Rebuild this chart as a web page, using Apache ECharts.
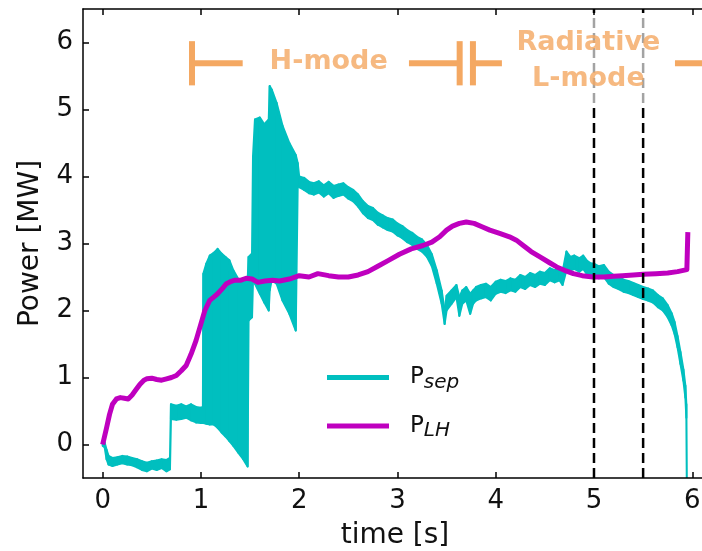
<!DOCTYPE html>
<html><head><meta charset="utf-8">
<script src="https://cdn.jsdelivr.net/npm/echarts@6/dist/echarts.min.js"></script>
<style>html,body{margin:0;padding:0;background:#fff}#c{width:702px;height:551px}</style>
</head><body><div id="c"></div>
<script>
// ---- data ----
const xTicks = [0, 1, 2, 3, 4, 5, 6];
const yTicks = [0, 1, 2, 3, 4, 5, 6];

const plhT = [0, 0.02, 0.04, 0.07, 0.1, 0.14, 0.18, 0.22, 0.26, 0.3, 0.34, 0.38, 0.42, 0.45, 0.5, 0.55, 0.6, 0.65, 0.7, 0.75,
  0.8, 0.85, 0.9, 0.95, 1.0, 1.04, 1.09, 1.13, 1.17, 1.22, 1.26, 1.3, 1.34, 1.4, 1.46, 1.52, 1.58, 1.65, 1.73, 1.8,
  1.9, 2.0, 2.1, 2.19, 2.3, 2.4, 2.5, 2.6, 2.7, 2.8, 2.9, 3.02, 3.14, 3.26, 3.35, 3.43, 3.5, 3.56, 3.63, 3.7,
  3.78, 3.86, 3.94, 4.04, 4.14, 4.21, 4.28, 4.36, 4.45, 4.54, 4.62, 4.7, 4.79, 4.88, 4.99, 5.1, 5.2, 5.29, 5.4, 5.5,
  5.63, 5.75, 5.85, 5.945, 5.955];
const plhV = [0, 0.02, 0.25, 0.45, 0.6, 0.68, 0.7, 0.69, 0.68, 0.74, 0.82, 0.9, 0.96, 0.98, 0.99, 0.97, 0.96, 0.98, 1.0, 1.03,
  1.1, 1.18, 1.35, 1.55, 1.8, 2.0, 2.15, 2.2, 2.25, 2.33, 2.4, 2.43, 2.45, 2.45, 2.48, 2.47, 2.42, 2.44, 2.45, 2.44,
  2.47, 2.52, 2.5, 2.55, 2.52, 2.5, 2.5, 2.53, 2.58, 2.66, 2.74, 2.84, 2.92, 2.97, 3.02, 3.1, 3.2, 3.26, 3.3, 3.32,
  3.3, 3.25, 3.2, 3.15, 3.1, 3.05, 2.97, 2.88, 2.8, 2.72, 2.65, 2.6, 2.55, 2.52, 2.5, 2.5, 2.51, 2.52, 2.53, 2.54,
  2.55, 2.56, 2.58, 2.61, 3.17];

// P_sep: noisy signal given as lower / upper envelope at each time
const psepT = [0, 0.02, 0.04, 0.06, 0.1, 0.15, 0.2, 0.25, 0.3, 0.35, 0.4, 0.45, 0.5, 0.55, 0.6, 0.65, 0.685,
  0.695, 0.75, 0.8, 0.85, 0.9, 0.95, 1.0, 1.02,
  1.025, 1.055, 1.09, 1.13, 1.17, 1.21, 1.25, 1.29, 1.33, 1.38, 1.43, 1.475, 1.485, 1.52,
  1.53, 1.55, 1.6, 1.645, 1.69, 1.70, 1.72, 1.77, 1.83, 1.9, 1.965, 1.985,
  2.0, 2.05, 2.1, 2.15, 2.2, 2.25, 2.3, 2.35, 2.4, 2.45, 2.5, 2.55, 2.6, 2.65, 2.7, 2.75, 2.8, 2.85, 2.9, 2.95,
  3.0, 3.05, 3.1, 3.15, 3.2, 3.25, 3.3, 3.35, 3.4, 3.45, 3.48, 3.5, 3.55, 3.6, 3.63, 3.66, 3.7, 3.74, 3.77, 3.8,
  3.85, 3.9, 3.95, 4.0, 4.05, 4.1, 4.15, 4.2, 4.25, 4.3, 4.35, 4.4, 4.45, 4.5, 4.55, 4.6, 4.65, 4.68, 4.72, 4.76,
  4.8, 4.85, 4.89, 4.93, 4.97, 5.0, 5.05, 5.1, 5.15, 5.2, 5.25, 5.3, 5.35, 5.4, 5.45, 5.5, 5.55, 5.6, 5.65, 5.7,
  5.75, 5.79, 5.82, 5.85, 5.88, 5.91, 5.93, 5.94, 5.945];
const psepLo = [-0.02, -0.04, -0.22, -0.3, -0.32, -0.3, -0.28, -0.3, -0.31, -0.34, -0.38, -0.4, -0.36, -0.38, -0.35, -0.4, -0.37,
  0.38, 0.37, 0.38, 0.4, 0.36, 0.33, 0.32, 0.32,
  0.32, 0.31, 0.3, 0.3, 0.25, 0.18, 0.12, 0.05, -0.02, -0.12, -0.22, -0.33, 1.85, 1.9,
  2.45, 2.4, 2.25, 2.12, 2.0, 2.3, 2.45, 2.4, 2.15, 1.95, 1.7, 3.88,
  3.84, 3.8, 3.75, 3.73, 3.76, 3.7, 3.75, 3.68, 3.71, 3.73, 3.67, 3.63, 3.55, 3.45, 3.38, 3.35, 3.28, 3.24, 3.2, 3.18,
  3.12, 3.08, 3.02, 2.98, 2.92, 2.88, 2.8, 2.66, 2.4, 2.1, 1.8, 2.0, 2.1, 2.2, 1.92, 2.1, 2.15, 1.95, 2.1, 2.15,
  2.18, 2.2, 2.15, 2.25, 2.28, 2.26, 2.3, 2.28, 2.35, 2.32, 2.38, 2.35, 2.4, 2.38, 2.45, 2.42, 2.45, 2.38, 2.6, 2.6,
  2.62, 2.58, 2.62, 2.54, 2.5, 2.52, 2.48, 2.5, 2.4, 2.35, 2.32, 2.28, 2.26, 2.23, 2.2, 2.17, 2.15, 2.12, 2.05, 2.0,
  1.9, 1.78, 1.65, 1.45, 1.2, 0.95, 0.7, 0.4, -0.7];
const psepHi = [0.05, 0.03, -0.08, -0.17, -0.2, -0.19, -0.17, -0.18, -0.2, -0.22, -0.25, -0.27, -0.25, -0.24, -0.22, -0.23, -0.2,
  0.6, 0.58, 0.6, 0.57, 0.6, 0.56, 0.55, 0.56,
  2.55, 2.7, 2.82, 2.86, 2.92, 2.85, 2.8, 2.75, 2.6, 2.47, 2.42, 2.43, 2.8, 2.85,
  4.3, 4.85, 4.88, 4.78, 4.85, 5.35, 5.3, 5.1, 4.76, 4.5, 4.32, 4.2,
  4.0, 3.98, 3.92, 3.9, 3.93, 3.87, 3.92, 3.86, 3.88, 3.9, 3.84, 3.8, 3.73, 3.63, 3.56, 3.53, 3.46, 3.42, 3.38, 3.36,
  3.3, 3.26, 3.2, 3.16, 3.1, 3.06, 2.98, 2.84, 2.6, 2.3, 2.0, 2.22, 2.3, 2.38, 2.2, 2.3, 2.35, 2.25, 2.3, 2.35,
  2.38, 2.4, 2.35, 2.43, 2.46, 2.44, 2.48, 2.46, 2.53, 2.5, 2.56, 2.53, 2.58, 2.56, 2.63, 2.6, 2.63, 2.58, 2.88, 2.8,
  2.82, 2.78, 2.82, 2.74, 2.7, 2.7, 2.66, 2.68, 2.58, 2.53, 2.5, 2.46, 2.44, 2.41, 2.38, 2.35, 2.33, 2.3, 2.23, 2.18,
  2.08, 1.96, 1.83, 1.62, 1.38, 1.12, 0.88, 0.6, -0.6];

const phaseLines = [5.0, 5.5];
const phaseText = ['H-mode', 'Radiative\nL-mode'];
// annotation anchors in data coordinates
const hModeLabelAt = [2.30, 5.71];
const lModeLabelAt = [4.943, 5.724];
const spanLevel = 5.69;
const spanBarHalf = 0.33;
const hModeEnds = [0.909, 3.633];
const hModeGap = [1.425, 3.117];
const lModeStart = 3.768;
const lModeGap = [4.063, 5.824];
const lModeEnd = 6.5;

// ---- chart ----
const X_MIN = -0.2, X_MAX = 6.15, Y_MIN = -0.5, Y_MAX = 6.5;
const CYAN = '#00BFBF', MAG = '#BF00BF', ORANGE = '#F4A862';
const FONT = 'DejaVu Sans';

const annSegs = [
  [hModeEnds[0], spanLevel - spanBarHalf, hModeEnds[0], spanLevel + spanBarHalf],
  [hModeEnds[0], spanLevel, hModeGap[0], spanLevel],
  [hModeGap[1], spanLevel, hModeEnds[1], spanLevel],
  [hModeEnds[1], spanLevel - spanBarHalf, hModeEnds[1], spanLevel + spanBarHalf],
  [lModeStart, spanLevel - spanBarHalf, lModeStart, spanLevel + spanBarHalf],
  [lModeStart, spanLevel, lModeGap[0], spanLevel],
  [lModeGap[1], spanLevel, lModeEnd, spanLevel]
];
const dashSegs = phaseLines.map(x => [x, Y_MIN, x, Y_MAX]);
const psepBand = psepT.map((t, i) => [t, psepLo[i], psepHi[i]]);

function segRenderer(style) {
  return function (params, api) {
    const p1 = api.coord([api.value(0), api.value(1)]);
    const p2 = api.coord([api.value(2), api.value(3)]);
    return { type: 'line', shape: { x1: p1[0], y1: p1[1], x2: p2[0], y2: p2[1] }, style: style };
  };
}
// band between lower and upper envelope, one quad per interval
function bandRenderer(params, api) {
  const i = params.dataIndexInside;
  if (i >= params.dataInsideLength - 1) return null;
  const t0 = api.value(0, i), l0 = api.value(1, i), h0 = api.value(2, i);
  const t1 = api.value(0, i + 1), l1 = api.value(1, i + 1), h1 = api.value(2, i + 1);
  const pts = [api.coord([t0, h0]), api.coord([t1, h1]), api.coord([t1, l1]), api.coord([t0, l0])];
  const cs = params.coordSys;
  return {
    type: 'polygon', shape: { points: pts },
    style: { fill: CYAN, stroke: CYAN, lineWidth: 2, lineJoin: 'round' },
    clipPath: { type: 'rect', shape: { x: cs.x, y: cs.y, width: cs.width, height: cs.height } }
  };
}

const axisLineStyle = { color: '#000', width: 1.5 };
const chart = echarts.init(document.getElementById('c'), null, { renderer: 'canvas' });
chart.setOption({
  animation: false,
  backgroundColor: '#fff',
  grid: { left: 83, top: 9, right: -5, bottom: 73, show: false, containLabel: false, outerBoundsMode: 'none' },
  xAxis: [{
    type: 'value', min: X_MIN, max: X_MAX, position: 'bottom', z: 8,
    axisLine: { show: true, onZero: false, lineStyle: axisLineStyle },
    axisTick: { show: true, inside: true, length: 6, lineStyle: axisLineStyle, customValues: xTicks },
    axisLabel: { customValues: xTicks, fontSize: 26, fontFamily: FONT, color: '#111', margin: 10 },
    splitLine: { show: false },
    name: 'time [s]', nameLocation: 'middle', nameGap: 44,
    nameTextStyle: { fontSize: 28, fontFamily: FONT, color: '#111' }
  }, {
    type: 'value', min: X_MIN, max: X_MAX, position: 'top', z: 8,
    axisLine: { show: true, onZero: false, lineStyle: axisLineStyle },
    axisTick: { show: true, inside: true, length: 6, lineStyle: axisLineStyle, customValues: xTicks },
    axisLabel: { show: false }, splitLine: { show: false }
  }],
  yAxis: [{
    type: 'value', min: Y_MIN, max: Y_MAX, position: 'left', z: 8,
    axisLine: { show: true, onZero: false, lineStyle: axisLineStyle },
    axisTick: { show: true, inside: true, length: 6, lineStyle: axisLineStyle, customValues: yTicks },
    axisLabel: { customValues: yTicks, fontSize: 26, fontFamily: FONT, color: '#111', margin: 10 },
    splitLine: { show: false },
    name: 'Power [MW]', nameLocation: 'middle', nameGap: 38, nameRotate: 90,
    nameTextStyle: { fontSize: 28, fontFamily: FONT, color: '#111' }
  }],
  legend: {
    show: true, orient: 'vertical', left: 327, top: 366, padding: 0,
    itemWidth: 62, itemHeight: 5, itemGap: 22, selectedMode: false,
    data: [
      { name: 'Psep', icon: 'rect', itemStyle: { color: CYAN, borderWidth: 0 } },
      { name: 'PLH', icon: 'rect', itemStyle: { color: MAG, borderWidth: 0 } }
    ],
    formatter: n => n === 'Psep' ? '{p|P}{s|sep}' : '{p|P}{s|LH}',
    textStyle: {
      rich: {
        p: { fontSize: 23, fontFamily: FONT, color: '#111', padding: [0, 0, 0, 16] },
        s: { fontSize: 20, fontFamily: FONT, fontStyle: 'italic', color: '#111', padding: [10, 0, 0, 0] }
      }
    }
  },
  series: [
    {
      name: 'Psep', type: 'custom', coordinateSystem: 'cartesian2d', z: 2, silent: true, clip: true,
      itemStyle: { color: CYAN },
      encode: { x: 0, y: [1, 2] },
      renderItem: bandRenderer,
      data: psepBand
    },
    {
      name: 'PLH', type: 'line', z: 3,
      showSymbol: false, symbol: 'none', smooth: false, silent: true,
      itemStyle: { color: MAG },
      lineStyle: { color: MAG, width: 5, join: 'round' },
      data: plhT.map((t, i) => [t, plhV[i]])
    },
    {
      name: 'phaseLines', type: 'custom', coordinateSystem: 'cartesian2d', z: 4, silent: true, clip: true,
      encode: { x: [0, 2], y: [1, 3] },
      renderItem: segRenderer({ stroke: '#000', lineWidth: 2.5, lineDash: [10, 5] }),
      data: dashSegs
    },
    {
      name: 'phaseLabels', type: 'scatter', z: 5, silent: true,
      symbol: 'circle', symbolSize: 1, itemStyle: { color: 'rgba(0,0,0,0)' },
      label: {
        show: true, position: 'inside', formatter: p => phaseText[p.dataIndex],
        fontSize: 27, fontWeight: 'bold', fontFamily: FONT, color: ORANGE, lineHeight: 36
      },
      data: [
        { value: hModeLabelAt },
        { value: lModeLabelAt, label: { backgroundColor: 'rgba(255,255,255,0.8)', padding: [20, 14, 0, 14], width: 145, align: 'center' } }
      ]
    },
    {
      name: 'phaseSpans', type: 'custom', coordinateSystem: 'cartesian2d', z: 6, silent: true, clip: false,
      encode: { x: [0, 2], y: [1, 3] },
      renderItem: segRenderer({ stroke: ORANGE, lineWidth: 6 }),
      data: annSegs
    }
  ]
});
</script>
</body></html>
